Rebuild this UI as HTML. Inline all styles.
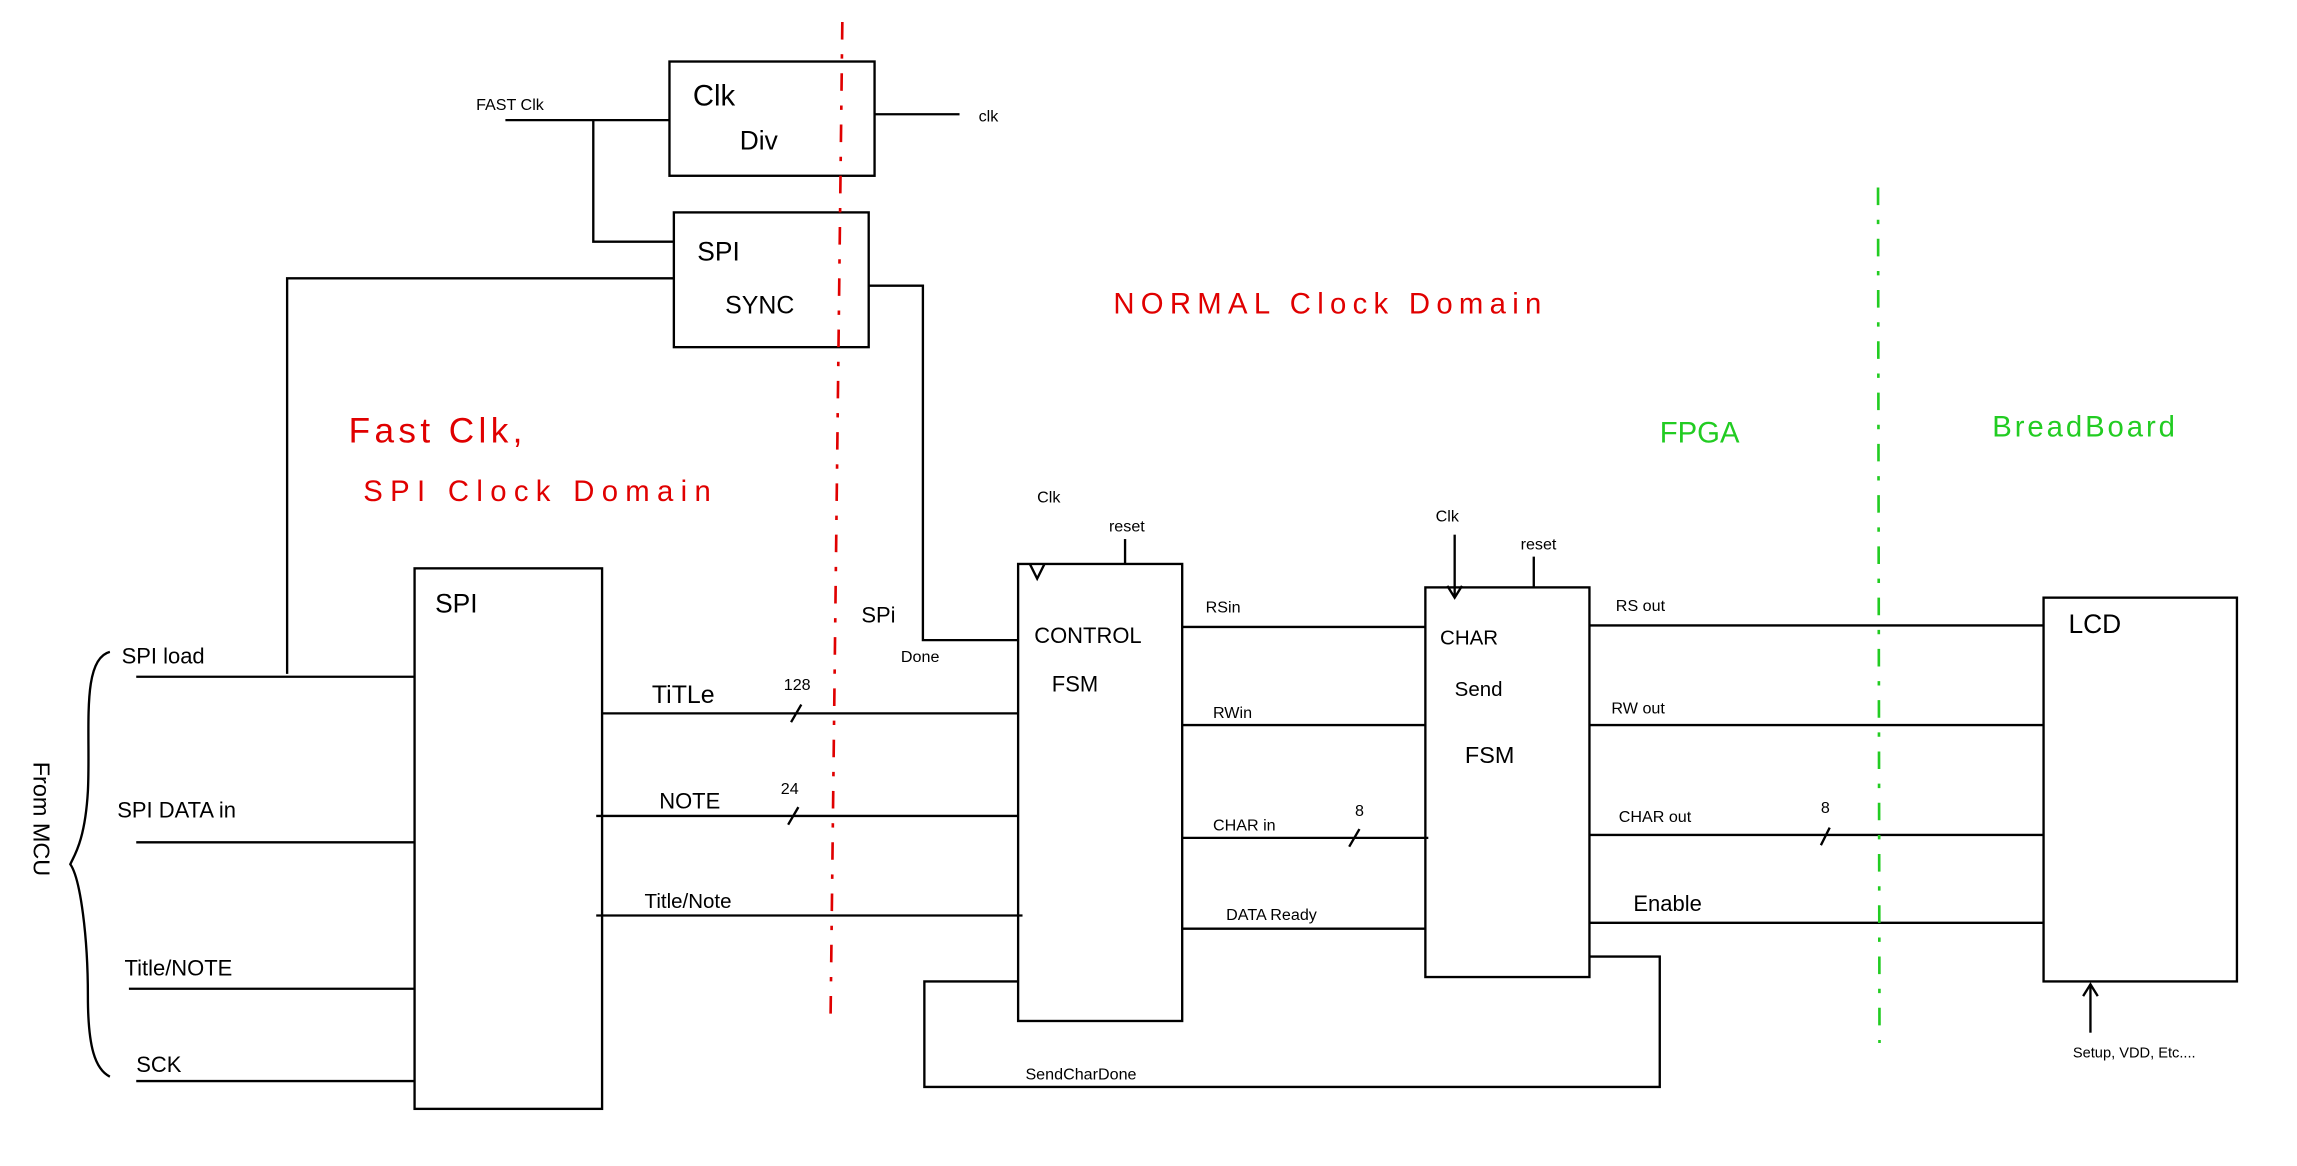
<!DOCTYPE html>
<html><head><meta charset="utf-8"><style>
html,body{margin:0;padding:0;background:#fff;}
svg{display:block;}
text{font-family:"Liberation Sans",sans-serif;font-size:15px;fill:#000;}
.s{font-size:11px;}
.r{fill:#e00000;font-size:20px;}
.g{fill:#22cc22;font-size:20px;}
</style></head><body>
<svg width="2297" height="1166" viewBox="0 0 1568 796" preserveAspectRatio="none" xmlns="http://www.w3.org/2000/svg">
<g fill="none" stroke="#000" stroke-width="1.6">
<rect x="457" y="42" width="140" height="78"/>
<line x1="597" y1="78" x2="655" y2="78"/>
<polyline points="345,82 457,82"/>
<polyline points="405,82 405,165 460,165"/>
<rect x="460" y="145" width="133" height="92"/>
<polyline points="460,190 196,190 196,460"/>
<polyline points="593,195 630,195 630,437 695,437"/>
<rect x="283" y="388" width="128" height="369"/>
<line x1="93" y1="462" x2="283" y2="462"/>
<line x1="93" y1="575" x2="283" y2="575"/>
<line x1="88" y1="675" x2="283" y2="675"/>
<line x1="93" y1="738" x2="283" y2="738"/>
<path d="M75,445 C55,450 62,500 60,540 C58,575 50,585 48,590 C55,600 60,640 60,680 C60,715 65,730 75,735"/>
<line x1="411" y1="487" x2="695" y2="487"/>
<line x1="540" y1="493" x2="547" y2="481"/>
<line x1="407" y1="557" x2="695" y2="557"/>
<line x1="538" y1="563" x2="545" y2="551"/>
<line x1="407" y1="625" x2="698" y2="625"/>
<rect x="695" y="385" width="112" height="312"/>
<polyline points="703,385 708,395 713,385"/>
<line x1="768" y1="368" x2="768" y2="385"/>
<line x1="807" y1="428" x2="973" y2="428"/>
<line x1="807" y1="495" x2="973" y2="495"/>
<line x1="807" y1="572" x2="975" y2="572"/>
<line x1="921" y1="578" x2="928" y2="566"/>
<line x1="807" y1="634" x2="973" y2="634"/>
<rect x="973" y="401" width="112" height="266"/>
<line x1="993" y1="365" x2="993" y2="408"/>
<polyline points="988,400 993,408 998,400"/>
<line x1="1047" y1="380" x2="1047" y2="401"/>
<line x1="1085" y1="427" x2="1395" y2="427"/>
<line x1="1085" y1="495" x2="1395" y2="495"/>
<line x1="1085" y1="570" x2="1395" y2="570"/>
<line x1="1243" y1="577" x2="1249" y2="565"/>
<line x1="1085" y1="630" x2="1395" y2="630"/>
<polyline points="1085,653 1133,653 1133,742 631,742 631,670 695,670"/>
<rect x="1395" y="408" width="132" height="262"/>
<line x1="1427" y1="705" x2="1427" y2="672"/>
<polyline points="1422,680 1427,672 1432,680"/>
</g>
<line x1="575" y1="15" x2="567" y2="692" stroke="#e00000" stroke-width="1.8" stroke-dasharray="12,10,3,10"/>
<line x1="1282" y1="128" x2="1283" y2="712" stroke="#22cc22" stroke-width="1.8" stroke-dasharray="12,10,3,10"/>
<text x="473" y="72" style="font-size:20px">Clk</text>
<text x="505" y="102" style="font-size:18px">Div</text>
<text x="668" y="83" class="s">clk</text>
<text x="325" y="75" class="s">FAST Clk</text>
<text x="476" y="178" style="font-size:18px">SPI</text>
<text x="495" y="214" style="font-size:17px">SYNC</text>
<text x="297" y="418" style="font-size:18px">SPI</text>
<text x="83" y="453">SPI load</text>
<text x="80" y="558">SPI DATA in</text>
<text x="85" y="666">Title/NOTE</text>
<text x="93" y="732">SCK</text>
<text transform="translate(23,520) rotate(90)" style="font-size:16px">From MCU</text>
<text x="445" y="480" style="font-size:17px">TiTLe</text>
<text x="535" y="471" class="s">128</text>
<text x="450" y="552">NOTE</text>
<text x="533" y="542" class="s">24</text>
<text x="440" y="620" style="font-size:14px">Title/Note</text>
<text x="588" y="425">SPi</text>
<text x="615" y="452" class="s">Done</text>
<text x="708" y="343" class="s">Clk</text>
<text x="757" y="363" class="s">reset</text>
<text x="706" y="439">CONTROL</text>
<text x="718" y="472">FSM</text>
<text x="823" y="418" class="s">RSin</text>
<text x="828" y="490" class="s">RWin</text>
<text x="828" y="567" class="s">CHAR in</text>
<text x="925" y="557" class="s">8</text>
<text x="837" y="628" class="s">DATA Ready</text>
<text x="980" y="356" class="s">Clk</text>
<text x="1038" y="375" class="s">reset</text>
<text x="983" y="440" style="font-size:14px">CHAR</text>
<text x="993" y="475" style="font-size:14px">Send</text>
<text x="1000" y="521" style="font-size:16px">FSM</text>
<text x="1103" y="417" class="s">RS out</text>
<text x="1100" y="487" class="s">RW out</text>
<text x="1105" y="561" class="s">CHAR out</text>
<text x="1243" y="555" class="s">8</text>
<text x="1115" y="622">Enable</text>
<text x="1412" y="432" style="font-size:18px">LCD</text>
<text x="1415" y="722" style="font-size:10px">Setup, VDD, Etc....</text>
<text x="700" y="737" class="s">SendCharDone</text>
<text x="760" y="214" class="r" style="letter-spacing:4.3px">NORMAL Clock Domain</text>
<text x="238" y="302" class="r" style="font-size:24px;letter-spacing:3px">Fast Clk,</text>
<text x="248" y="342" class="r" style="letter-spacing:5px">SPI Clock Domain</text>
<text x="1133" y="302" class="g">FPGA</text>
<text x="1360" y="298" class="g" style="letter-spacing:2px">BreadBoard</text>
</svg>
</body></html>
